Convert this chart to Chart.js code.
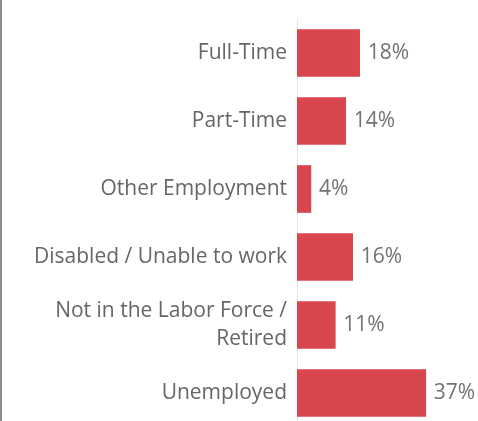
<!DOCTYPE html>
<html>
<head>
<meta charset="utf-8">
<script src="https://cdn.jsdelivr.net/npm/chart.js@4.4.1/dist/chart.umd.min.js"></script>
<style>
  html, body { margin: 0; padding: 0; background: #fff; overflow: hidden; }
  #wrap { position: relative; width: 478px; height: 421px; overflow: hidden; }
  #wrap canvas { position: absolute; left: 0; top: 0; }
</style>
</head>
<body>
<div id="wrap"><canvas id="bar-chart" width="478" height="427"></canvas></div>
<script>
var categories = [
	'Full-Time',
	'Part-Time',
	'Other Employment',
	'Disabled / Unable to work',
	['Not in the Labor Force /', 'Retired'],
	'Unemployed'
];
var shares = [18, 14, 4, 16, 11, 37];

var barRed = '#d9474e';
var labelGrey = '#666666';
var valueGrey = '#737373';
var fontName = '"Open Sans", sans-serif';

// value text at the end of each bar, plus the grey frame edge on the left
var valueLabels = {
	id: 'valueLabels',
	afterDatasetsDraw: function(chart) {
		var ctx = chart.ctx;
		var meta = chart.getDatasetMeta(0);
		ctx.save();
		ctx.font = '21px ' + fontName;
		ctx.fillStyle = valueGrey;
		ctx.textAlign = 'left';
		ctx.textBaseline = 'middle';
		meta.data.forEach(function(bar, i) {
			ctx.fillText(shares[i] + '%', bar.x + 8, bar.y);
		});
		ctx.fillStyle = '#8c8c8c';
		ctx.fillRect(0, 0, 2, chart.height);
		ctx.restore();
	}
};

var ctx = document.getElementById('bar-chart').getContext('2d');
var chart = new Chart(ctx, {
	type: 'bar',
	data: {
		labels: categories,
		datasets: [{
			data: shares,
			backgroundColor: barRed,
			borderWidth: 0,
			barThickness: 47
		}]
	},
	options: {
		indexAxis: 'y',
		responsive: false,
		animation: false,
		layout: { padding: { top: 19, right: 0, bottom: 0, left: 0 } },
		plugins: { legend: { display: false }, tooltip: { enabled: false } },
		scales: {
			x: { display: false, min: 0, max: 52 },
			y: {
				grid: { display: false },
				border: { display: true, color: '#e4e4e4', width: 1 },
				ticks: {
					color: labelGrey,
					padding: 2,
					font: { family: fontName, size: 21, lineHeight: 1.33 }
				},
				afterFit: function(scale) {
					scale.width = 297;
					scale.paddingTop = 0;
					scale.paddingBottom = 0;
				}
			}
		}
	},
	plugins: [valueLabels]
});
</script>
</body>
</html>
